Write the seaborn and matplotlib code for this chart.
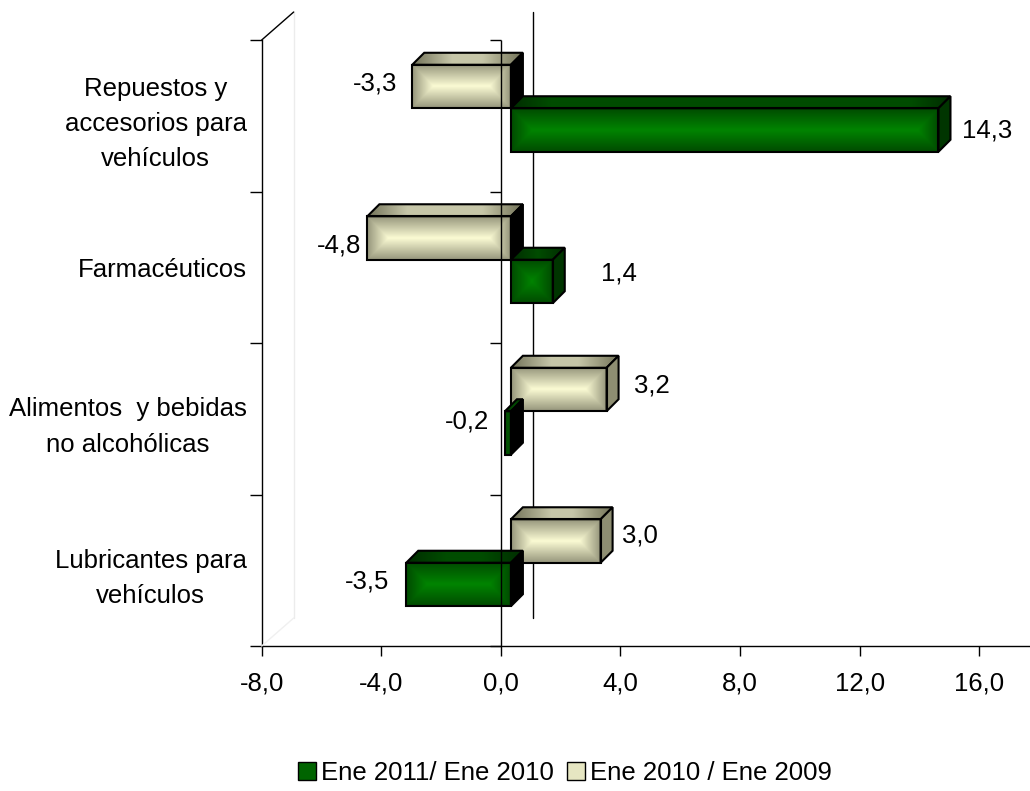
import numpy as np
import pandas as pd
import matplotlib
matplotlib.use("Agg")
import matplotlib.pyplot as plt
import matplotlib.transforms as mtransforms
import matplotlib.lines as mlines
from matplotlib.patches import Polygon, Patch
import seaborn as sns

# ---------------------------------------------------------------- data
rubros = [
    "Repuestos y\naccesorios para\nvehículos",
    "Farmacéuticos",
    "Alimentos  y bebidas\nno alcohólicas",
    "Lubricantes para\nvehículos",
]
nombre_2011 = "Ene 2011/ Ene 2010"
nombre_2010 = "Ene 2010 / Ene 2009"
var_2011 = [14.3, 1.4, -0.2, -3.5]
var_2010 = [-3.3, -4.8, 3.2, 3.0]
ticks_x = [-8, -4, 0, 4, 8, 12, 16]

# ---------------------------------------------------------------- style
sns.set_style("white")
plt.rcParams["font.family"] = ["Liberation Sans", "DejaVu Sans"]
plt.rcParams["text.color"] = "black"
plt.rcParams["xtick.color"] = "black"
plt.rcParams["ytick.color"] = "black"
plt.rcParams["axes.labelcolor"] = "black"
FS = 18.5
DPI = 100
W, H = 1030, 791

COL = {
    nombre_2011: dict(edge="#004a00", center="#008400",
                      top_edge="#002c00", top_center="#004c00",
                      side="#003500", legend="#006400"),
    nombre_2010: dict(edge="#94947a", center="#fbfbd4",
                      top_edge="#727258", top_center="#c6c6a8",
                      side="#8e8e72", legend="#e6e6c2"),
}
BAR_SHIFT = (10, 7.5)      # px: bars sit a little behind the front plane
DEPTH = 12                 # px: thickness of the 3-D boxes
BACK_SHIFT = (32, 28)      # px: back wall of the plot box

# label placement: gap from box (px) and vertical nudge (px, +down)
gap_2010, dy_2010 = [15, 6, 15, 9], [-5, 5.5, -6.5, -8]
gap_2011, dy_2011 = [12, 36, 16, 17], [-1.5, -9.5, -13, -4.5]

df = pd.DataFrame({
    "rubro": rubros * 2,
    "periodo": [nombre_2010] * 4 + [nombre_2011] * 4,
    "valor": var_2010 + var_2011,
})

fig = plt.figure(figsize=(W / DPI, H / DPI), dpi=DPI)
x_left, x_right_px, y_top_px, y_bot_px = 261.7, W, 40, 646
ax = fig.add_axes([x_left / W, (H - y_bot_px) / H,
                   (x_right_px - x_left) / W, (y_bot_px - y_top_px) / H])

sns.barplot(data=df, x="valor", y="rubro", hue="periodo",
            hue_order=[nombre_2010, nombre_2011], orient="h",
            palette=[COL[nombre_2010]["legend"], COL[nombre_2011]["legend"]],
            width=0.574, saturation=1, edgecolor="black", linewidth=1.5,
            legend=False, ax=ax)

px_per_unit = 29.9
XLIM = (-8, -8 + (x_right_px - x_left) / px_per_unit)
ax.set_xlim(*XLIM)
ax.set_ylim(3.5, -0.5)
ax.set_xlabel("")
ax.set_ylabel("")

shift = mtransforms.ScaledTranslation(BAR_SHIFT[0] / DPI, BAR_SHIFT[1] / DPI,
                                      fig.dpi_scale_trans)
tbar = ax.transData + shift

# data units per pixel
p0 = ax.transData.transform((0, 0))
p1 = ax.transData.transform((1, 1))
ux = 1 / abs(p1[0] - p0[0])
uy = 1 / abs(p1[1] - p0[1])
ddx = DEPTH * ux
ddy = -DEPTH * uy          # y axis is inverted: up = smaller values


def blend(c_edge, c_center, t):
    a = np.array(matplotlib.colors.to_rgb(c_edge))
    b = np.array(matplotlib.colors.to_rgb(c_center))
    return a + (b - a) * t[..., None]


def rect_gradient(nx, ny, c_edge, c_center):
    nx, ny = max(int(round(nx)), 2), max(int(round(ny)), 2)
    xs = np.arange(nx) + 0.5
    ys = np.arange(ny) + 0.5
    dxe = np.minimum(xs, nx - xs)
    dye = np.minimum(ys, ny - ys)
    d = np.minimum(dxe[None, :], dye[:, None])
    return blend(c_edge, c_center, np.clip(d / (ny / 2.0), 0, 1))


def run_gradient(nx, c_edge, c_center, scale):
    nx = max(int(round(nx)), 2)
    xs = np.arange(nx) + 0.5
    d = np.minimum(xs, nx - xs)
    t = np.clip(d / scale, 0, 1)
    return blend(c_edge, c_center, np.vstack([t, t]))


fmt = lambda v: f"{v:.1f}".replace(".", ",")

series = [(nombre_2010, gap_2010, dy_2010), (nombre_2011, gap_2011, dy_2011)]
for k, (name, gaps, dys) in enumerate(series):
    cont = ax.containers[k]
    c = COL[name]
    for i, (bar, val) in enumerate(zip(cont.patches, cont.datavalues)):
        x0 = bar.get_x()
        w = bar.get_width()
        yb0 = bar.get_y()
        hb = bar.get_height()
        xl, xr = min(x0, x0 + w), max(x0, x0 + w)
        yt, yb = min(yb0, yb0 + hb), max(yb0, yb0 + hb)
        z = 2 + i * 1.0 + k * 0.4
        bar.set_transform(tbar)
        bar.set_facecolor("none")
        bar.set_zorder(z + 0.05)
        # shaded front face
        npx = (xr - xl) / ux
        npy = (yb - yt) / uy
        img = ax.imshow(rect_gradient(npx, npy, c["edge"], c["center"]),
                        extent=(xl, xr, yb, yt), aspect="auto",
                        interpolation="bilinear", transform=tbar, zorder=z)
        img.set_clip_path(bar)
        # top face
        top = Polygon([(xl, yt), (xr, yt), (xr + ddx, yt + ddy), (xl + ddx, yt + ddy)],
                      closed=True, facecolor="none", edgecolor="black",
                      linewidth=1.5, transform=tbar, zorder=z + 0.02)
        ax.add_patch(top)
        timg = ax.imshow(run_gradient(npx + DEPTH, c["top_edge"], c["top_center"],
                                      min(40.0, (npx + DEPTH) / 2)),
                         extent=(xl, xr + ddx, yt, yt + ddy), aspect="auto",
                         interpolation="bilinear", transform=tbar, zorder=z + 0.01)
        timg.set_clip_path(top)
        # end face
        side_col = c["side"] if val > 0 else "black"
        side = Polygon([(xr, yt), (xr, yb), (xr + ddx, yb + ddy), (xr + ddx, yt + ddy)],
                       closed=True, facecolor=side_col, edgecolor="black",
                       linewidth=1.5, transform=tbar, zorder=z + 0.03)
        ax.add_patch(side)
        # value label
        yc = (yt + yb) / 2
        if val >= 0:
            ax.annotate(fmt(val), xy=(xr, yc), xycoords=tbar,
                        xytext=(DEPTH + gaps[i], -(dys[i] + 2)),
                        textcoords="offset pixels", ha="left", va="center",
                        fontsize=FS, zorder=20)
        else:
            ax.annotate(fmt(val), xy=(xl, yc), xycoords=tbar,
                        xytext=(-gaps[i], -(dys[i] + 2)),
                        textcoords="offset pixels", ha="right", va="center",
                        fontsize=FS, zorder=20)

ax.set_xlim(*XLIM)
ax.set_ylim(3.5, -0.5)

# ---------------------------------------------------------------- axes
for s in ["top", "right"]:
    ax.spines[s].set_visible(False)
for s in ["left", "bottom"]:
    ax.spines[s].set_color("black")
    ax.spines[s].set_linewidth(1.0)

ax.set_xticks(ticks_x)
ax.set_xticklabels([fmt(v) for v in ticks_x], fontsize=FS)
ax.tick_params(axis="x", bottom=True, direction="out", length=7.2, width=1.0,
               color="black", pad=11)

bounds = [-0.5, 0.5, 1.5, 2.5, 3.5]
ax.set_yticks(bounds)
ax.set_yticklabels([])
ax.set_yticks(range(len(rubros)), minor=True)
ax.set_yticklabels(rubros, minor=True, fontsize=FS, multialignment="center",
                   linespacing=1.6)
ax.tick_params(axis="y", which="major", left=True, direction="out",
               length=8.6, width=1.0, color="black")
ax.tick_params(axis="y", which="minor", left=True, length=0, pad=10.8)

# category axis crossing at zero, drawn over the boxes
ax.plot([0, 0], [-0.5, 3.5], color="black", lw=1.0, zorder=30,
        solid_capstyle="butt")
ax.plot([0] * len(bounds), bounds, linestyle="none", color="black",
        marker=mlines.TICKLEFT, markersize=8, markeredgewidth=1.0,
        zorder=30, clip_on=False)

# back wall: zero line and box edges
back = mtransforms.ScaledTranslation(BACK_SHIFT[0] / DPI, BACK_SHIFT[1] / DPI,
                                     fig.dpi_scale_trans)
tback = ax.transData + back
ax.plot([0, 0], [-0.5, 3.5], color="black", lw=1.0, transform=tback,
        zorder=1, clip_on=False)
ax.plot([-8, -8], [-0.5, 3.5], color="#ececec", lw=1.0, transform=tback,
        zorder=1, clip_on=False)
xb, yb_ = tback.transform((-8, -0.5))
xf, yf = ax.transData.transform((-8, -0.5))
fig.add_artist(mlines.Line2D([xf / W, xb / W], [yf / H, yb_ / H],
                             color="black", lw=1.0))
xb2, yb2 = tback.transform((-8, 3.5))
xf2, yf2 = ax.transData.transform((-8, 3.5))
fig.add_artist(mlines.Line2D([xf2 / W, xb2 / W], [yf2 / H, yb2 / H],
                             color="#f0f0f0", lw=1.0))

# ---------------------------------------------------------------- legend
handles = [Patch(facecolor=COL[nombre_2011]["legend"], edgecolor="black"),
           Patch(facecolor=COL[nombre_2010]["legend"], edgecolor="black")]
fig.legend(handles, [nombre_2011, nombre_2010], loc="center",
           bbox_to_anchor=(565 / W, 1 - 773 / H), ncol=2, frameon=False,
           fontsize=FS, handlelength=0.7, handleheight=0.7,
           handletextpad=0.2, columnspacing=0.5, borderpad=0)

fig.savefig("out.png", dpi=DPI)
